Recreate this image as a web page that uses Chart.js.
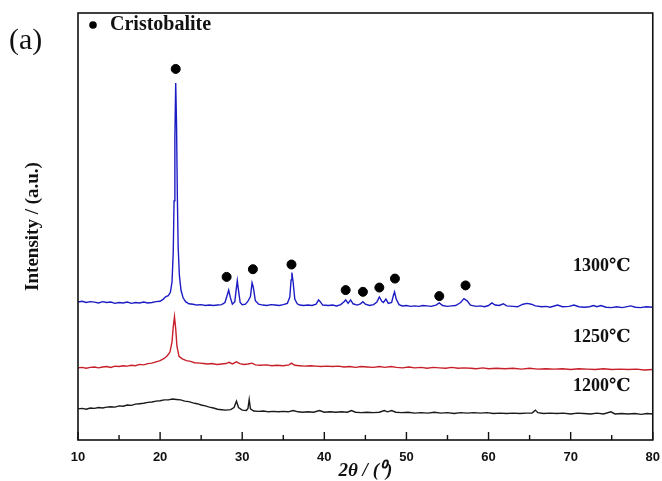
<!DOCTYPE html>
<html>
<head>
<meta charset="utf-8">
<script src="https://cdn.jsdelivr.net/npm/chart.js@4.4.1/dist/chart.umd.min.js"></script>
<style>
  html, body { margin: 0; padding: 0; background: #fff; }
  #wrap { width: 662px; height: 481px; }
</style>
</head>
<body>
<div id="wrap"><canvas id="xrd"></canvas></div>
<script>
// XRD patterns (2theta in degrees, intensity in a.u., offset traces)
const trace1300 = [
  [10,32.3],[10.5,32.5],[11,32.2],[11.5,32.4],[12,32.3],[12.5,32.1],[13,32.4],[13.5,32.2],[14,32.3],[14.5,32.0],
  [15,32.2],[15.5,32.1],[16,32.3],[16.5,32.0],[17,32.2],[17.5,32.1],[18,32.3],[18.5,32.1],[19,32.2],[19.5,32.4],
  [20,32.5],[20.4,33.0],[20.7,33.6],[21.0,33.8],[21.25,34.6],[21.45,37.0],[21.6,44],[21.7,56],[21.8,71],[21.9,83.6],
  [22.0,74],[22.1,57],[22.2,45],[22.35,38.5],[22.55,35.0],[22.8,33.3],[23.1,32.4],[23.5,31.9],[24,31.8],[24.5,31.6],
  [25,31.7],[25.5,31.5],[26,31.6],[26.5,31.5],[27,31.6],[27.5,31.7],[27.9,32.2],[28.15,33.8],[28.35,35.1],[28.55,33.4],
  [28.8,31.8],[29.1,32.4],[29.25,35.0],[29.4,37.3],[29.55,35.0],[29.75,32.2],[30.0,31.7],[30.4,31.8],[30.7,32.5],[31.0,33.6],
  [31.2,36.8],[31.35,35.8],[31.6,32.6],[32,31.8],[32.5,31.6],[33,31.5],[33.5,31.7],[34,31.6],[34.5,31.5],[35,31.7],
  [35.5,32.0],[35.8,33.5],[35.95,37.5],[36.05,39.2],[36.2,37.0],[36.4,33.0],[36.7,31.9],[37,31.6],[37.5,31.5],[38,31.6],
  [38.5,31.5],[39,31.8],[39.3,32.8],[39.5,32.4],[39.8,31.6],[40.5,31.5],[41,31.6],[41.5,31.4],[42,31.7],[42.4,32.4],
  [42.6,32.8],[42.9,32.0],[43.2,32.8],[43.5,31.9],[44,31.6],[44.4,31.9],[44.7,32.4],[45,31.8],[45.5,31.5],[46,31.7],
  [46.4,32.3],[46.7,33.5],[47.0,32.5],[47.2,32.2],[47.5,33.0],[47.8,32.0],[48.2,32.2],[48.4,33.8],[48.55,34.7],[48.75,33.0],
  [49.1,31.7],[49.5,31.4],[50,31.5],[50.5,31.3],[51,31.4],[51.5,31.3],[52,31.5],[52.5,31.4],[53,31.3],[53.6,31.6],
  [54.0,32.1],[54.4,31.5],[55,31.3],[55.5,31.4],[56,31.5],[56.6,32.2],[57.0,33.1],[57.4,32.6],[57.8,31.6],[58.5,31.3],
  [59,31.4],[59.5,31.2],[60,31.5],[60.4,32.1],[60.8,31.6],[61.3,31.5],[61.8,31.9],[62.2,31.4],[63,31.3],[63.5,31.2],
  [64.2,31.8],[64.7,32.0],[65.2,31.8],[65.7,31.4],[66.5,31.2],[67,31.3],[67.5,31.1],[68.4,31.6],[69,31.2],[69.8,31.3],
  [70.4,31.6],[71,31.2],[71.7,31.1],[72.3,31.2],[72.8,31.5],[73.2,31.2],[73.7,31.5],[74.3,31.1],[75,31.0],[75.6,31.2],
  [76.3,31.0],[77.3,31.4],[77.9,31.1],[78.5,31.0],[79.2,31.2],[80,31.1]
];

const trace1250 = [
  [10,16.9],[10.5,17.0],[11,16.8],[11.5,17.0],[12,17.1],[12.5,16.9],[13,17.1],[13.5,17.2],[14,17.0],[14.5,17.3],
  [15,17.2],[15.5,17.4],[16,17.3],[16.5,17.5],[17,17.4],[17.5,17.7],[18,17.6],[18.5,17.9],[19,18.0],[19.5,18.3],
  [20,18.6],[20.5,19.1],[20.9,19.8],[21.2,20.6],[21.45,23.0],[21.6,26.5],[21.75,28.9],[21.9,26.0],[22.05,22.0],[22.3,19.6],
  [22.7,19.0],[23.2,18.6],[23.7,18.4],[24.2,18.1],[24.8,18.0],[25.3,17.9],[25.8,17.8],[26.3,17.9],[26.9,17.7],[27.5,17.8],
  [28.0,17.9],[28.4,18.2],[28.8,17.8],[29.3,18.3],[29.7,17.9],[30.2,17.7],[30.7,17.8],[31.2,18.0],[31.6,17.6],[32.2,17.5],
  [33,17.6],[33.6,17.4],[34.2,17.5],[35,17.4],[35.7,17.6],[36.0,18.0],[36.4,17.5],[37,17.4],[37.6,17.3],[38.3,17.4],
  [39,17.3],[39.6,17.2],[40.3,17.3],[41,17.2],[41.7,17.3],[42.4,17.1],[43.1,17.2],[43.8,17.0],[44.5,17.2],[45.2,17.1],
  [46,17.0],[46.7,17.2],[47.4,17.0],[48.1,17.2],[48.8,17.0],[49.5,16.9],[50.3,17.1],[51,16.9],[51.8,17.0],[52.5,16.8],
  [53.3,17.0],[54,16.9],[54.8,16.8],[55.5,17.0],[56.3,16.8],[57,16.9],[57.8,16.8],[58.5,16.7],[59.3,16.9],[60,16.7],
  [61,16.8],[62,16.7],[63,16.8],[64,16.6],[65,16.8],[66,16.6],[67,16.7],[68,16.6],[69,16.7],[70,16.5],
  [71,16.7],[72,16.6],[73,16.5],[74,16.7],[75,16.5],[76,16.6],[77,16.5],[78,16.6],[79,16.4],[80,16.5]
];

const trace1200 = [
  [10,7.3],[10.5,7.4],[11,7.2],[11.5,7.5],[12,7.4],[12.5,7.6],[13,7.5],[13.5,7.7],[14,7.8],[14.5,7.7],
  [15,8.0],[15.5,7.9],[16,8.2],[16.5,8.1],[17,8.4],[17.5,8.5],[18,8.6],[18.5,8.8],[19,8.9],[19.5,9.1],
  [20,9.2],[20.5,9.4],[21,9.4],[21.5,9.6],[22,9.5],[22.5,9.4],[23,9.1],[23.5,9.0],[24,8.7],[24.5,8.5],
  [25,8.2],[25.5,8.0],[26,7.7],[26.5,7.5],[27,7.2],[27.5,7.1],[28,7.0],[28.6,7.1],[29.0,7.6],[29.3,9.1],
  [29.55,7.6],[30.0,7.0],[30.5,6.9],[30.7,7.4],[30.85,9.5],[31.0,7.3],[31.4,6.8],[32,6.7],[32.6,6.8],[33.2,6.6],
  [33.8,6.7],[34.4,6.6],[35,6.7],[35.6,6.6],[36.2,6.9],[36.8,6.6],[37.4,6.5],[38,6.6],[38.7,6.5],[39.4,6.9],
  [40,6.5],[40.7,6.6],[41.4,6.5],[42.1,6.6],[42.8,6.5],[43.3,6.9],[43.8,6.5],[44.5,6.4],[45.2,6.5],[46,6.4],
  [46.7,6.5],[47.3,6.9],[47.7,6.6],[48.2,6.9],[48.7,6.5],[49.4,6.4],[50.2,6.5],[51,6.3],[51.8,6.4],[52.6,6.3],
  [53.4,6.5],[54.2,6.3],[55,6.4],[55.8,6.2],[56.6,6.4],[57.4,6.3],[58.2,6.4],[59,6.3],[59.8,6.4],[60.6,6.2],
  [61.4,6.3],[62.2,6.2],[63,6.3],[63.8,6.2],[64.6,6.3],[65.3,6.3],[65.7,7.0],[66.0,6.4],[66.7,6.2],[67.5,6.3],
  [68.3,6.2],[69.1,6.3],[70,6.1],[70.8,6.3],[71.6,6.2],[72.4,6.1],[73.2,6.3],[74.0,6.1],[74.9,6.6],[75.4,6.1],
  [76.2,6.2],[77,6.1],[77.8,6.2],[78.6,6.0],[79.3,6.2],[80,6.1]
];

// cristobalite reflections marked with dots
const cristobaliteMarks = [
  [21.9,86.9],[28.1,38.2],[31.3,40.0],[36.0,41.1],[42.6,35.1],
  [44.7,34.7],[46.7,35.7],[48.6,37.8],[54.0,33.7],[57.2,36.2]
];

// labels next to each trace: [text, 2theta, intensity]
const traceLabels = [
  ['1300℃', 77.3, 40.6],
  ['1250℃', 77.3, 24.1],
  ['1200℃', 77.3, 12.5]
];

const xMajorTicks = [10, 20, 30, 40, 50, 60, 70, 80];
const xMinorTicks = [15, 25, 35, 45, 55, 65, 75];

const toPoints = arr => arr.map(p => ({ x: p[0], y: p[1] }));

function traceDataset(label, arr, color) {
    return {
        label: label,
        data: toPoints(arr),
        showLine: true,
        borderColor: color,
        borderWidth: 1.4,
        pointRadius: 0,
        tension: 0
    };
}

// frame, inward x ticks, legend key, trace labels and panel letter
const decorPlugin = {
    id: 'decor',
    afterDraw(chart) {
        const { ctx, chartArea: a, scales } = chart;
        const xs = scales.x, ys = scales.y;
        ctx.save();
        ctx.strokeStyle = '#111';
        ctx.lineWidth = 1.6;
        ctx.strokeRect(a.left, a.top, a.right - a.left, a.bottom - a.top);

        ctx.lineWidth = 1.4;
        ctx.beginPath();
        xMajorTicks.forEach(v => {
            const px = xs.getPixelForValue(v);
            ctx.moveTo(px, a.bottom);
            ctx.lineTo(px, a.bottom - 8);
        });
        xMinorTicks.forEach(v => {
            const px = xs.getPixelForValue(v);
            ctx.moveTo(px, a.bottom);
            ctx.lineTo(px, a.bottom - 5);
        });
        ctx.stroke();

        // legend key
        ctx.fillStyle = '#000';
        ctx.beginPath();
        ctx.arc(a.left + 15, a.top + 12, 3.8, 0, Math.PI * 2);
        ctx.fill();
        ctx.fillStyle = '#111';
        ctx.font = 'bold 20px "Liberation Serif", serif';
        ctx.textAlign = 'left';
        ctx.textBaseline = 'middle';
        ctx.fillText('Cristobalite', a.left + 32, a.top + 12);

        ctx.font = 'bold 18px "Liberation Serif", "DejaVu Serif", serif';
        ctx.textAlign = 'right';
        traceLabels.forEach(t => {
            ctx.fillText(t[0], xs.getPixelForValue(t[1]), ys.getPixelForValue(t[2]));
        });

        ctx.font = '30px "Liberation Serif", serif';
        ctx.textAlign = 'left';
        ctx.textBaseline = 'alphabetic';
        ctx.fillText('(a)', 9, 49);
        ctx.restore();
    }
};

const ctx = document.getElementById('xrd').getContext('2d');
new Chart(ctx, {
    type: 'scatter',
    data: {
        datasets: [
            traceDataset('1300', trace1300, '#1c1cc4'),
            traceDataset('1250', trace1250, '#c8202a'),
            traceDataset('1200', trace1200, '#1a1a1a'),
            {
                label: 'Cristobalite',
                data: toPoints(cristobaliteMarks),
                showLine: false,
                pointRadius: 4.5,
                pointStyle: 'circle',
                backgroundColor: '#000',
                borderColor: '#000'
            }
        ]
    },
    options: {
        responsive: true,
        maintainAspectRatio: false,
        animation: false,
        layout: { padding: { top: 13, right: 2, left: 0, bottom: 0 } },
        plugins: {
            tooltip: { enabled: false },
            legend: { display: false }
        },
        scales: {
            x: {
                type: 'linear',
                min: 10,
                max: 80,
                grid: { display: false },
                border: { display: false },
                ticks: {
                    stepSize: 10,
                    padding: 2,
                    color: '#111',
                    font: { family: '"Liberation Sans", Arial, sans-serif', size: 13, weight: 'bold' }
                },
                title: {
                    display: true,
                    text: '2θ / (⁰)',
                    color: '#111',
                    padding: { top: 0, bottom: 0 },
                    font: { family: '"Liberation Serif", serif', size: 19, weight: 'bold', style: 'italic', lineHeight: 1 }
                },
                afterFit(scale) { scale.height = 41; }
            },
            y: {
                min: 0,
                max: 100,
                grid: { display: false },
                border: { display: false },
                ticks: { display: false },
                title: {
                    display: true,
                    text: 'Intensity / (a.u.)',
                    color: '#111',
                    padding: { top: 22, bottom: 0 },
                    font: { family: '"Liberation Serif", serif', size: 19, weight: 'bold' }
                },
                afterFit(scale) { scale.width = 78; }
            }
        }
    },
    plugins: [decorPlugin]
});
</script>
</body>
</html>
